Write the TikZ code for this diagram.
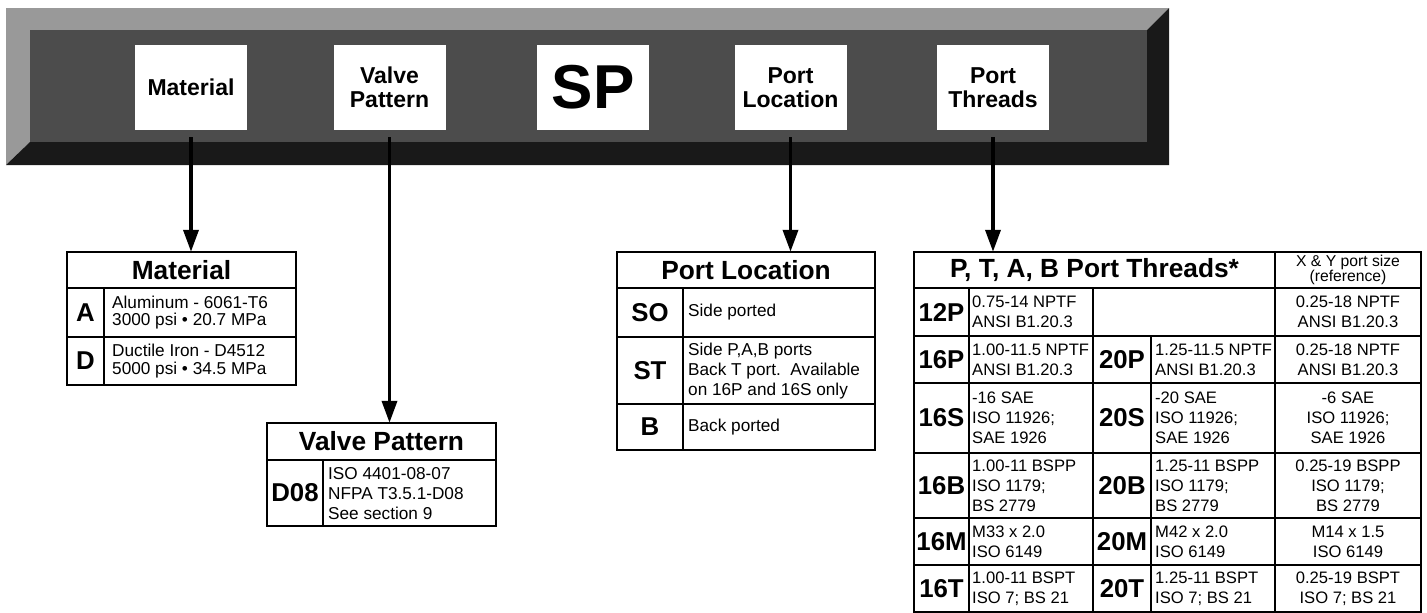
\documentclass[tikz,border=0pt]{standalone}
\usepackage{fontspec}
\setmainfont{Liberation Sans}
\usetikzlibrary{arrows.meta,positioning}
\definecolor{barlight}{gray}{0.60}
\definecolor{barface}{gray}{0.30}
\definecolor{bardark}{gray}{0.10}
\tikzset{
  bannerbox/.style={fill=white, minimum width=112, minimum height=85, inner sep=0pt,
    align=center, font=\bfseries\fontsize{23}{24}\selectfont},
  selarrow/.style={line width=3.6pt, -{Triangle[length=22pt,width=15pt]}},
  tabframe/.style={line width=2.6pt},
  tabrule/.style={line width=1.6pt},
  headcell/.style={inner sep=0pt, font=\bfseries\fontsize{26.3}{28}\selectfont},
  codecell/.style={inner sep=0pt, font=\bfseries\fontsize{25.8}{27}\selectfont},
  textcell/.style={anchor=west, inner sep=0pt, align=left, font=\fontsize{17.2}{17.5}\selectfont},
  xycell/.style={inner sep=0pt, align=center, font=\fontsize{16.6}{20}\selectfont}
}
\begin{document}
\begin{tikzpicture}[x=1pt, y=-1pt]
  \useasboundingbox (0,0) rectangle (1427,613);

  % model code bar
  \fill[barlight] (6,8) -- (1169,8) -- (1147,30) -- (30,30) -- (30,142) -- (6,165) -- cycle;
  \fill[bardark] (1169,8) -- (1169,165) -- (6,165) -- (30,142) -- (1147,142) -- (1147,30) -- cycle;
  \fill[barface] (30,30) rectangle (1147,142);

  \node[bannerbox] (bmat)   at (191,87.5)   {Material};
  \node[bannerbox] (bvalve) at (389.5,87.5) {Valve\\Pattern};
  \node[bannerbox, font=\bfseries\fontsize{62}{62}\selectfont] (bsp) at (593,87.5) {SP};
  \node[bannerbox] (bloc)   at (790.5,87.5) {Port\\Location};
  \node[bannerbox] (bthr)   at (993,87.5)   {Port\\Threads};

  % material
  \node[headcell, minimum width=229, minimum height=36] (tmat) at (181.5,270) {Material};
  \draw[tabrule] (67,288) -- (296,288) (67,337) -- (296,337) (104,288) -- (104,385);
  \draw[tabframe] (67,252) rectangle (296,385);
  \node[codecell] (mA) at (85.5,312.5) {A};
  \node[textcell] (mAt) at (112,312.5) {Aluminum - 6061-T6\\3000 psi • 20.7 MPa};
  \node[codecell] (mD) at (85.5,361) {D};
  \node[textcell] (mDt) at (112,361) {Ductile Iron - D4512\\5000 psi • 34.5 MPa};

  % valve pattern
  \node[headcell, minimum width=229, minimum height=37] (tvalve) at (381.5,441.5) {Valve Pattern};
  \draw[tabrule] (267,460) -- (496,460) (323,460) -- (323,526);
  \draw[tabframe] (267,423) rectangle (496,526);
  \node[codecell] (vD) at (295,493) {D08};
  \node[textcell, font=\fontsize{17.2}{20}\selectfont] (vDt) at (328,494) {ISO 4401-08-07\\NFPA T3.5.1-D08\\See section 9};

  % port location
  \node[headcell, minimum width=258, minimum height=36] (tloc) at (746,270) {Port Location};
  \draw[tabrule] (617,288) -- (875,288) (617,337) -- (875,337) (617,404) -- (875,404) (683,288) -- (683,450);
  \draw[tabframe] (617,252) rectangle (875,450);
  \node[codecell] (lSO) at (650,312.5) {SO};
  \node[textcell] (lSOt) at (688,312.5) {Side ported};
  \node[codecell] (lST) at (650,370.5) {ST};
  \node[textcell, font=\fontsize{17.2}{20}\selectfont] (lSTt) at (688,371) {Side P,A,B ports\\Back T port.~~Available\\on 16P and 16S only};
  \node[codecell] (lB) at (650,427) {B};
  \node[textcell] (lBt) at (688,427) {Back ported};

  % port threads
  \node[headcell, minimum width=361, minimum height=36] (tthr) at (1094.5,270) {P, T, A, B Port Threads*};
  \node[xycell, font=\fontsize{15.7}{15}\selectfont] (txy) at (1348,270) {X \& Y port size\\(reference)};
  \foreach \y in {288,336,383,453,518,565}
    \draw[tabrule] (914,\y) -- (1421,\y);
  \draw[tabrule] (969,288) -- (969,612) (1093,288) -- (1093,612)
                 (1151,336) -- (1151,612) (1275,252) -- (1275,612);
  \draw[tabframe] (914,252) rectangle (1421,612);
  \foreach \ya/\yb/\ca/\ta/\cb/\tb/\tc [evaluate={\ym=(\ya+\yb)/2}] in {
      288/336/12P/{0.75-14 NPTF\\ANSI B1.20.3}/{}/{}/{0.25-18 NPTF\\ANSI B1.20.3},
      336/383/16P/{1.00-11.5 NPTF\\ANSI B1.20.3}/20P/{1.25-11.5 NPTF\\ANSI B1.20.3}/{0.25-18 NPTF\\ANSI B1.20.3},
      383/453/16S/{-16 SAE\\ISO 11926;\\SAE 1926}/20S/{-20 SAE\\ISO 11926;\\SAE 1926}/{-6 SAE\\ISO 11926;\\SAE 1926},
      453/518/16B/{1.00-11 BSPP\\ISO 1179;\\BS 2779}/20B/{1.25-11 BSPP\\ISO 1179;\\BS 2779}/{0.25-19 BSPP\\ISO 1179;\\BS 2779},
      518/565/16M/{M33 x 2.0\\ISO 6149}/20M/{M42 x 2.0\\ISO 6149}/{M14 x 1.5\\ISO 6149},
      565/612/16T/{1.00-11 BSPT\\ISO 7; BS 21}/20T/{1.25-11 BSPT\\ISO 7; BS 21}/{0.25-19 BSPT\\ISO 7; BS 21}}
  {
    \node[codecell] (c\ca) at (941.5,\ym) {\ca};
    \node[textcell, font=\fontsize{16.6}{20}\selectfont] (t\ca) at (972,\ym) {\ta};
    \node[codecell] (d\ca) at (1122,\ym) {\cb};
    \node[textcell, font=\fontsize{16.6}{20}\selectfont] (u\ca) at (1155,\ym) {\tb};
    \node[xycell] (x\ca) at (1348,\ym) {\tc};
  }

  % selections
  \draw[selarrow] ([yshift=-7pt]bmat.south)   -- (bmat.south |- tmat.north);
  \draw[selarrow] ([yshift=-7pt]bvalve.south) -- (bvalve.south |- tvalve.north);
  \draw[selarrow] ([yshift=-7pt]bloc.south)   -- (bloc.south |- tloc.north);
  \draw[selarrow] ([yshift=-7pt]bthr.south)   -- (bthr.south |- tthr.north);
\end{tikzpicture}
\end{document}
